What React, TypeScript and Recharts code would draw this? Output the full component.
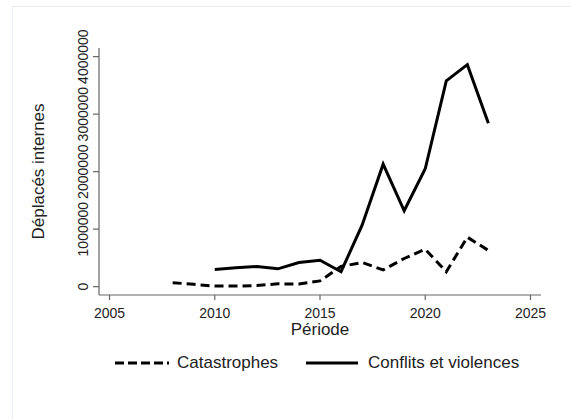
import { LineChart, Line, XAxis, YAxis, Label } from 'recharts';

const years = [2008, 2009, 2010, 2011, 2012, 2013, 2014, 2015, 2016, 2017, 2018, 2019, 2020, 2021, 2022, 2023];
const catastrophes = [70000, 40000, 10000, 10000, 20000, 50000, 45000, 100000, 350000, 420000, 290000, 490000, 650000, 260000, 860000, 630000];
const conflits = [null, null, 300000, 330000, 350000, 310000, 420000, 460000, 260000, 1070000, 2130000, 1320000, 2050000, 3580000, 3860000, 2840000];
const xTicks = [2005, 2010, 2015, 2020, 2025];
const yTicks = [0, 1000000, 2000000, 3000000, 4000000];

const data = years.map((year, i) => ({
    year,
    catastrophes: catastrophes[i],
    conflits: conflits[i],
}));

const font = '"Liberation Sans", Arial, sans-serif';
const axisColor = '#666666';
const textColor = '#222222';

function YTick(props: any) {
    const { x, y, payload } = props;
    return (
        <text
            x={x}
            y={y}
            transform={`rotate(-90, ${x}, ${y})`}
            textAnchor="middle"
            fontSize={14}
            fontFamily={font}
            fill={textColor}
        >
            {payload.value}
        </text>
    );
}

export default function App() {
    return (
        <div style={{ position: 'absolute', left: 0, top: 0, width: 571, height: 419, background: '#fff', fontFamily: font }}>
            <div
                style={{
                    position: 'absolute',
                    left: 12,
                    top: 6,
                    width: 559,
                    height: 413,
                    borderLeft: '1px solid #e9eef3',
                    borderTop: '1px solid #e9eef3',
                }}
            />
            <LineChart
                width={571}
                height={419}
                data={data}
                margin={{ top: 48, right: 30, left: 0, bottom: 64 }}
                style={{ position: 'absolute', left: 0, top: 0 }}
            >
                <XAxis
                    dataKey="year"
                    type="number"
                    domain={[2004.5, 2025.5]}
                    ticks={xTicks}
                    interval={0}
                    height={60}
                    stroke={axisColor}
                    strokeWidth={1.2}
                    tickSize={5}
                    tickMargin={8}
                    tick={{ fontSize: 14, fontFamily: font, fill: textColor }}
                >
                    <Label
                        content={(p: any) => {
                            const vb = p.viewBox;
                            return (
                                <text
                                    x={vb.x + vb.width / 2}
                                    y={vb.y + 40}
                                    textAnchor="middle"
                                    fontSize={17}
                                    fontFamily={font}
                                    fill={textColor}
                                >
                                    Période
                                </text>
                            );
                        }}
                    />
                </XAxis>
                <YAxis
                    type="number"
                    domain={[-145000, 4150000]}
                    ticks={yTicks}
                    interval={0}
                    width={99}
                    stroke={axisColor}
                    strokeWidth={1.2}
                    tickSize={6}
                    tickMargin={5}
                    tick={<YTick />}
                >
                    <Label
                        content={(p: any) => {
                            const vb = p.viewBox;
                            const cy = vb.y + vb.height / 2;
                            return (
                                <text
                                    x={44}
                                    y={cy}
                                    transform={`rotate(-90, 44, ${cy})`}
                                    textAnchor="middle"
                                    fontSize={17}
                                    fontFamily={font}
                                    fill={textColor}
                                >
                                    Déplacés internes
                                </text>
                            );
                        }}
                    />
                </YAxis>
                <Line
                    type="linear"
                    dataKey="catastrophes"
                    stroke="#000"
                    strokeWidth={3}
                    strokeDasharray="9 5"
                    dot={false}
                    activeDot={false}
                    connectNulls={false}
                    isAnimationActive={false}
                />
                <Line
                    type="linear"
                    dataKey="conflits"
                    stroke="#000"
                    strokeWidth={3}
                    dot={false}
                    activeDot={false}
                    isAnimationActive={false}
                />
            </LineChart>
            <div
                style={{
                    position: 'absolute',
                    left: 0,
                    top: 351,
                    width: 571,
                    height: 24,
                    fontSize: 17,
                    color: textColor,
                }}
            >
                <svg width={56} height={24} style={{ position: 'absolute', left: 114, top: 0 }}>
                    <line x1={1} y1={12} x2={55} y2={12} stroke="#000" strokeWidth={3} strokeDasharray="9 4" />
                </svg>
                <span style={{ position: 'absolute', left: 177, top: 2, whiteSpace: 'nowrap' }}>Catastrophes</span>
                <svg width={54} height={24} style={{ position: 'absolute', left: 305, top: 0 }}>
                    <line x1={1} y1={12} x2={53} y2={12} stroke="#000" strokeWidth={3} />
                </svg>
                <span style={{ position: 'absolute', left: 368, top: 2, whiteSpace: 'nowrap' }}>Conflits et violences</span>
            </div>
        </div>
    );
}
